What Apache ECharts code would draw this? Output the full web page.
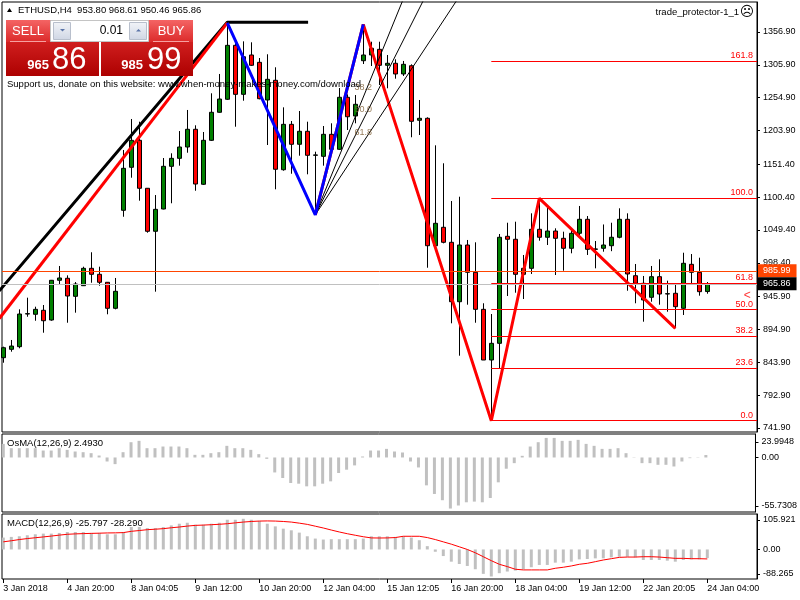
<!DOCTYPE html>
<html><head><meta charset="utf-8">
<script src="https://cdn.jsdelivr.net/npm/echarts@6/dist/echarts.min.js"></script>
<style>html,body{margin:0;padding:0;background:#fff}#c{width:800px;height:600px}</style>
</head><body><div id="c"></div>
<script>
// ---------------- DATA ----------------
const timeLabels = ['3 Jan 2018','4 Jan 20:00','8 Jan 04:05','9 Jan 12:00','10 Jan 20:00','12 Jan 04:00','15 Jan 12:05','16 Jan 20:00','18 Jan 04:00','19 Jan 12:00','22 Jan 20:05','24 Jan 04:00'];
const open  = [851.1,864.1,868.2,918.9,918.5,924.7,909.6,971.3,974.4,946.4,962.9,989.9,980.6,968.2,927.8,1080.0,1146.8,1188.7,1114.2,1047.4,1082.0,1148.3,1160.7,1178.3,1205.8,1120.4,1188.7,1232.2,1252.4,1336.2,1260.1,1321.2,1309.8,1251.3,1281.9,1143.0,1213.5,1182.5,1202.7,1165.4,1163.8,1198.0,1174.7,1255.5,1226.4,1312.3,1321.2,1330.0,1305.2,1308.3,1291.7,1304.5,1219.8,1222.9,1025.0,1053.6,1030.3,938.0,1026.1,983.7,926.2,847.5,873.4,1039.6,1035.0,980.6,989.9,1050.5,1038.1,1047.8,1036.5,1021.0,1044.3,1066.0,1019.4,1021.0,1025.0,1038.1,1066.0,978.4,966.6,944.9,976.9,950.0,951.1,927.8,996.1,983.7,953.80];
const high  = [868.2,878.6,926.2,944.3,930.3,932.9,971.8,993.5,979.0,968.6,992.4,1014.8,992.4,968.6,974.9,1173.6,1221.8,1217.6,1114.6,1103.7,1161.2,1168.5,1203.1,1235.8,1212.0,1201.6,1261.7,1291.7,1371.0,1339.8,1342.4,1340.9,1316.5,1322.3,1302.1,1239.9,1218.7,1234.2,1217.6,1171.0,1210.9,1215.1,1269.9,1260.1,1259.0,1368.8,1341.8,1341.8,1321.2,1314.5,1311.9,1306.7,1251.3,1224.4,1180.9,1153.0,1094.4,1101.1,1033.9,1030.3,935.6,918.9,1043.2,1060.7,1062.3,1010.6,1075.3,1098.6,1088.2,1052.0,1046.8,1052.0,1086.7,1071.1,1032.3,1058.0,1060.7,1083.1,1075.3,996.6,978.0,993.5,1003.9,970.7,964.0,1014.1,1012.1,1006.4,968.61];
const low   = [843.3,860.4,865.7,914.7,908.5,889.9,908.5,965.5,905.4,921.0,962.4,967.5,962.9,918.5,926.2,1070.0,1130.6,1094.9,1045.2,953.6,1081.5,1090.9,1149.3,1169.4,1110.4,1119.3,1187.6,1231.6,1251.3,1209.8,1250.2,1304.1,1252.4,1181.4,1112.6,1141.5,1136.8,1164.8,1135.9,1073.0,1149.3,1167.4,1173.6,1204.7,1215.1,1307.2,1304.1,1274.6,1269.5,1284.4,1288.6,1193.4,1196.9,990.8,1023.5,1028.7,904.5,854.2,933.4,905.4,847.5,753.2,834.6,946.9,952.0,942.2,981.1,1032.8,1026.1,979.5,986.2,1013.2,1039.0,1010.6,989.9,1015.7,1016.5,1036.5,955.1,935.6,907.0,938.0,933.4,922.5,896.7,917.4,965.5,947.4,950.46];
const close = [866.6,869.2,918.9,919.5,926.2,908.5,971.3,974.9,946.9,965.5,989.9,980.6,968.2,927.8,954.2,1145.2,1188.7,1114.2,1047.4,1081.5,1148.3,1160.7,1178.3,1205.8,1120.8,1188.7,1232.2,1252.8,1336.2,1260.1,1318.5,1305.2,1253.3,1283.4,1143.7,1213.5,1182.5,1202.7,1165.4,1166.0,1198.0,1174.7,1255.5,1225.3,1244.6,1321.2,1331.6,1305.2,1308.3,1291.7,1306.7,1218.2,1222.9,1025.0,1059.8,1030.3,938.0,1026.1,983.7,926.2,847.5,873.4,1038.1,1035.0,980.6,989.9,1050.5,1038.1,1047.8,1036.5,1021.0,1044.3,1066.0,1019.4,1020.0,1026.1,1038.1,1066.0,981.1,966.6,940.7,976.9,950.0,950.5,930.3,997.7,983.7,953.6,965.86];
const osma   = [13.9,9.5,9.5,9.5,9.5,7.1,7.1,9.5,7.8,6.1,5.4,4.4,2.0,-4.1,-6.8,5.4,15.6,17.0,9.5,9.5,11.2,11.2,11.2,9.5,2.7,2.7,4.4,5.4,11.9,9.5,9.5,7.8,3.4,-1.4,-15.3,-21.0,-26.1,-26.8,-29.5,-29.5,-26.8,-24.4,-15.9,-12.5,-8.1,1.0,7.1,7.1,8.8,6.1,5.1,-4.1,-10.2,-28.5,-37.3,-43.7,-52.2,-49.1,-45.8,-45.1,-45.8,-41.4,-25.4,-11.5,-5.8,1.7,11.2,15.6,20.0,20.0,17.0,17.0,18.0,13.9,11.9,8.8,8.8,9.5,4.4,0.3,-5.8,-5.8,-7.5,-7.5,-9.2,-4.1,-0.7,0.3,2.4930];
const macd   = [35.5,37.5,39.4,42.4,45.3,47.3,47.3,49.3,52.2,52.2,52.2,49.3,49.3,45.3,45.3,52.2,67.0,67.0,64.1,64.1,67.0,71.9,76.9,79.8,73.9,73.9,76.9,79.8,88.7,88.7,91.6,88.7,84.8,76.9,69.0,62.1,57.2,50.3,39.4,32.5,29.6,30.6,30.6,30.6,30.6,32.5,39.4,39.4,39.4,37.5,39.4,35.5,27.6,9.9,-6.9,-19.7,-36.5,-43.4,-49.3,-59.1,-72.9,-80.8,-70.9,-66.0,-63.1,-59.1,-53.2,-46.3,-46.3,-39.4,-39.4,-36.5,-29.6,-28.6,-26.6,-26.6,-23.6,-21.7,-21.7,-23.6,-31.5,-31.5,-31.5,-33.5,-36.5,-31.5,-29.6,-29.6,-25.797];
const signal = [22.7,26.0,29.6,32.5,35.0,37.4,40.0,42.8,45.3,46.5,47.3,48.0,48.6,49.3,49.6,50.3,54.2,56.5,59.1,60.5,62.1,64.8,67.0,69.8,71.9,72.8,73.9,75.2,76.9,79.5,81.8,83.6,84.8,85.2,84.8,83.6,81.8,78.6,74.9,69.5,64.1,58.0,52.2,47.0,42.4,38.0,34.5,34.2,34.5,35.5,39.4,39.4,39.4,35.5,29.6,22.7,15.8,7.9,0.0,-9.9,-21.7,-33.5,-44.3,-51.2,-59.1,-61.1,-61.1,-61.1,-61.1,-56.2,-53.2,-49.3,-44.3,-41.4,-36.5,-31.5,-27.6,-23.6,-22.7,-22.7,-21.7,-21.7,-22.7,-24.6,-26.6,-26.6,-27.6,-27.6,-28.290];
const priceTicks = [741.90,792.90,843.90,894.90,945.90,998.40,1049.40,1100.40,1151.40,1203.90,1254.90,1305.90,1356.90];
const fibLevels = [0.0,23.6,38.2,50.0,61.8,100.0,161.8];
const fanLevels = [38.2,50.0,61.8];
const askPrice = 985.99, bidPrice = 965.86;
const osmaRange = [-55.7308, 23.9948];
const macdRange = [-88.265, 105.921];
// hand-drawn objects (bar index, price)
const blackTrend = [[-0.5,955.0],[28,1372.0],[38.1,1372.0]];
const redTrend = [[-0.5,912.0],[28,1371.0]];
const blueZigIdx = [28,39,45], blueZigSide = ['H','L','H'];
const redZigIdx = [39,45,61,67,84], redZigSide = ['L','H','L','H','L'];
const fibFrom = 61, fibTo = 67;
const protectorMark = [93,947];

// ---------------- BUILD ----------------
const F = "'Liberation Sans', Arial, sans-serif";
const xMin = -0.1625, xMax = 94.2125;
const yMin = 735.69, yMax = 1403.49;
const pick = (i,s) => s==='H' ? high[i] : low[i];
const candleData = open.map((o,i)=>[i,o,close[i],low[i],high[i]]);
const xTicks = timeLabels.map((_,k)=>k*8);
const fLo = low[fibFrom], fHi = high[fibTo];
const fibData = fibLevels.map(l=>{const p=fLo+(fHi-fLo)*l/100;return [{coord:[fibFrom,p],name:l.toFixed(1)},{coord:[xMax,p]}];});
const fanSeries = fanLevels.map(r=>{
  const p = high[45]-(high[45]-low[39])*r/100;
  const slope=(p-low[39])/6;
  return {type:'line',xAxisIndex:0,yAxisIndex:0,data:[[39,low[39]],[39+30,low[39]+slope*30]],symbol:'none',clip:true,silent:true,z:5,lineStyle:{color:'#000',width:1}};
});
const fanLabelData = fanLevels.map(r=>[45,high[45]-(high[45]-low[39])*r/100,r.toFixed(1)]);
const osLabelPos = [osmaRange[1]-0.1*(osmaRange[1]-osmaRange[0]),0,osmaRange[0]+0.077*(osmaRange[1]-osmaRange[0])];
const mcLabelPos = [macdRange[1]-0.092*(macdRange[1]-macdRange[0]),0,macdRange[0]+0.077*(macdRange[1]-macdRange[0])];

const grids = [
  {left:2,top:2,width:755,height:430},
  {left:2,top:434,width:755,height:78},
  {left:2,top:514,width:755,height:65}
].map(g=>Object.assign(g,{show:true,borderColor:'#000',borderWidth:1,backgroundColor:'#fff',containLabel:false}));

const xAxes = [0,1,2].map(k=>({
  type:'value',gridIndex:k,min:xMin,max:xMax,splitLine:{show:false},
  axisLine:{show:false,onZero:false},
  axisTick:k===2?{show:true,customValues:xTicks,length:4,lineStyle:{color:'#000'}}:{show:false},
  axisLabel:k===2?{show:true,customValues:xTicks,formatter:v=>timeLabels[Math.round(v/8)],align:'left',margin:5,fontSize:9,color:'#000',fontFamily:F}:{show:false}
}));
const yCommon = {type:'value',position:'right',splitLine:{show:false},axisLine:{show:true,onZero:false,lineStyle:{color:'#000'}}};
const yAxes = [
  Object.assign({},yCommon,{gridIndex:0,min:yMin,max:yMax,
    axisTick:{show:true,customValues:priceTicks,length:3,lineStyle:{color:'#000'}},
    axisLabel:{customValues:priceTicks,formatter:v=>v.toFixed(2),fontSize:9,margin:6,color:'#000',fontFamily:F}}),
  Object.assign({},yCommon,{gridIndex:1,min:osmaRange[0],max:osmaRange[1],
    axisTick:{show:true,customValues:osLabelPos,length:3,lineStyle:{color:'#000'}},
    axisLabel:{customValues:osLabelPos,formatter:v=>v>1?osmaRange[1].toFixed(4):(v<-1?osmaRange[0].toFixed(4):'0.00'),fontSize:9,margin:6,color:'#000',fontFamily:F}}),
  Object.assign({},yCommon,{gridIndex:2,min:macdRange[0],max:macdRange[1],
    axisTick:{show:true,customValues:mcLabelPos,length:3,lineStyle:{color:'#000'}},
    axisLabel:{customValues:mcLabelPos,formatter:v=>v>1?macdRange[1].toFixed(3):(v<-1?macdRange[0].toFixed(3):'0.00'),fontSize:9,margin:6,color:'#000',fontFamily:F}})
];

const priceTag = (p,bg)=>({yAxis:p,lineStyle:{color:bg==='#000'?'#c0c0c0':bg,width:1,type:'solid'},
  label:{show:true,position:'end',distance:1,formatter:p.toFixed(2),color:'#fff',backgroundColor:bg,padding:[1,6,1,5],lineHeight:11,fontSize:9,fontFamily:F}});

const series = [
  {type:'candlestick',xAxisIndex:0,yAxisIndex:0,data:candleData,dimensions:['i','open','close','low','high'],
   encode:{x:'i',y:['open','close','low','high']},barWidth:5,z:2,silent:true,
   itemStyle:{color:'#008000',color0:'#ff0000',borderColor:'#000',borderColor0:'#000',borderColorDoji:'#000',borderWidth:1},
   markLine:{symbol:['none','none'],silent:true,animation:false,data:[priceTag(askPrice,'#ff4500'),priceTag(bidPrice,'#000')]}},
  {type:'line',xAxisIndex:0,yAxisIndex:0,data:blackTrend,symbol:'none',clip:true,silent:true,z:4,lineStyle:{color:'#000',width:3}},
  {type:'line',xAxisIndex:0,yAxisIndex:0,data:redTrend,symbol:'none',clip:true,silent:true,z:4,lineStyle:{color:'#ff0000',width:3}},
  {type:'line',xAxisIndex:0,yAxisIndex:0,data:redZigIdx.map((i,k)=>[i,pick(i,redZigSide[k])]),symbol:'none',clip:true,silent:true,z:4,
   lineStyle:{color:'#ff0000',width:3},
   markLine:{symbol:['none','none'],silent:true,animation:false,lineStyle:{color:'#ff0000',width:1,type:'solid'},
     label:{show:true,position:'insideEndTop',formatter:'{b}',color:'#ff0000',fontSize:9,fontFamily:F,distance:[4,1]},data:fibData}},
  {type:'line',xAxisIndex:0,yAxisIndex:0,data:blueZigIdx.map((i,k)=>[i,pick(i,blueZigSide[k])]),symbol:'none',clip:true,silent:true,z:6,lineStyle:{color:'#0000ff',width:3}},
  ...fanSeries,
  {type:'scatter',xAxisIndex:0,yAxisIndex:0,data:fanLabelData,symbolSize:1,itemStyle:{color:'rgba(0,0,0,0)'},silent:true,z:7,
   label:{show:true,position:'top',distance:5,formatter:p=>p.value[2],color:'#7a5a30',fontSize:9,fontFamily:F}},
  {type:'scatter',xAxisIndex:0,yAxisIndex:0,data:[protectorMark],symbolSize:1,itemStyle:{color:'rgba(0,0,0,0)'},silent:true,z:7,
   label:{show:true,position:'inside',formatter:'<',color:'#ff0000',fontSize:12,fontFamily:F}},
  {type:'bar',xAxisIndex:1,yAxisIndex:1,data:osma.map((v,i)=>[i,v]),barWidth:3,itemStyle:{color:'#c0c0c0'},silent:true},
  {type:'bar',xAxisIndex:2,yAxisIndex:2,data:macd.map((v,i)=>[i,v]),barWidth:3,itemStyle:{color:'#c0c0c0'},silent:true},
  {type:'line',xAxisIndex:2,yAxisIndex:2,data:signal.map((v,i)=>[i,v]),symbol:'none',silent:true,z:4,lineStyle:{color:'#ff0000',width:1}}
];

const grad = (a,b)=>({type:'linear',x:0,y:0,x2:0,y2:1,colorStops:[{offset:0,color:a},{offset:1,color:b}]});
const last = open.length-1;
const headerText = 'ETHUSD,H4  '+[open[last],high[last],low[last],close[last]].map(v=>v.toFixed(2)).join(' ');
const bidStr = bidPrice.toFixed(2), askStr = askPrice.toFixed(2);
const txt = (x,y,text,o)=>({type:'text',z:120,x:x,y:y,style:Object.assign({text:text,fill:'#000',fontSize:9.5,fontFamily:F,align:'left',verticalAlign:'middle'},o||{})});
const graphic = [
  {type:'polygon',z:100,shape:{points:[[7,12],[12,12],[9.5,8]]},style:{fill:'#000'}},
  txt(18,10,headerText),
  {type:'rect',z:100,shape:{x:6,y:20,width:93,height:56},style:{fill:grad('#e63232','#ad0000')}},
  {type:'rect',z:100,shape:{x:101,y:20,width:92,height:56},style:{fill:grad('#e63232','#ad0000')}},
  {type:'rect',z:101,shape:{x:6,y:20,width:44,height:22},style:{fill:grad('#f46464','#dc2a2a')}},
  {type:'rect',z:101,shape:{x:149,y:20,width:44,height:22},style:{fill:grad('#f46464','#dc2a2a')}},
  {type:'line',z:102,shape:{x1:10,y1:41.5,x2:46,y2:41.5},style:{stroke:'#f6a0a0',lineWidth:1}},
  {type:'line',z:102,shape:{x1:153,y1:41.5,x2:189,y2:41.5},style:{stroke:'#f6a0a0',lineWidth:1}},
  {type:'rect',z:101,shape:{x:50.5,y:20.5,width:98,height:21},style:{fill:'#fff',stroke:'#c4c4c4',lineWidth:1}},
  {type:'rect',z:102,shape:{x:53.5,y:22.5,width:17,height:17},style:{fill:grad('#f2f4f8','#cfd6e4'),stroke:'#b8bfcc',lineWidth:1}},
  {type:'rect',z:102,shape:{x:129.5,y:22.5,width:17,height:17},style:{fill:grad('#f2f4f8','#cfd6e4'),stroke:'#b8bfcc',lineWidth:1}},
  {type:'polygon',z:103,shape:{points:[[60,29],[65,29],[62.5,31.5]]},style:{fill:'#5a74a8'}},
  {type:'polygon',z:103,shape:{points:[[136,31.5],[141,31.5],[138.5,29]]},style:{fill:'#5a74a8'}},
  txt(123,31,'0.01',{fontSize:12,align:'right'}),
  txt(28,31,'SELL',{fontSize:13,fontFamily:"'Liberation Sans Narrow', "+F,fill:'#fff',align:'center'}),
  txt(171,31,'BUY',{fontSize:13,fontFamily:"'Liberation Sans Narrow', "+F,fill:'#fff',align:'center'}),
  txt(49,65,bidStr.slice(0,3),{fontSize:13,fontWeight:'bold',fill:'#fff',align:'right'}),
  txt(52,60,bidStr.slice(4,6),{fontSize:31,fill:'#fff'}),
  txt(143,65,askStr.slice(0,3),{fontSize:13,fontWeight:'bold',fill:'#fff',align:'right'}),
  txt(147,60,askStr.slice(4,6),{fontSize:31,fill:'#fff'}),
  txt(7,84,'Support us, donate on this website: www.when-money-makes-money.com/download'),
  txt(739,12,'trade_protector-1_1',{align:'right'}),
  txt(747,12,'\u2639',{fontSize:14,fontFamily:"'DejaVu Sans'",align:'center'}),
  txt(7,443,'OsMA(12,26,9) '+osma[last].toFixed(4)),
  txt(7,523,'MACD(12,26,9) '+macd[last].toFixed(3)+' '+signal[last].toFixed(3))
];

const chart = echarts.init(document.getElementById('c'));
chart.setOption({
  animation:false,backgroundColor:'#fff',textStyle:{fontFamily:F},
  grid:grids,xAxis:xAxes,yAxis:yAxes,series:series,graphic:graphic
});
</script></body></html>
